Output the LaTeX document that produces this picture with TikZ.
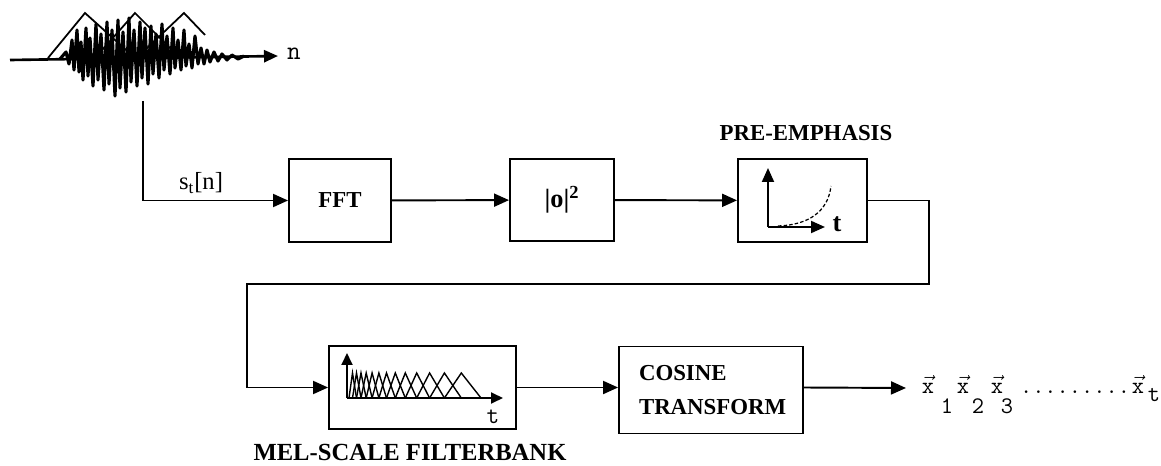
\documentclass[tikz,border=0pt]{standalone}
\usepackage{fontspec}
\setmainfont{Liberation Serif}
\usepackage{amsmath}
\usepackage{tikz}
\usetikzlibrary{arrows.meta, positioning}
\tikzset{
    block/.style={
        rectangle, draw, line width=1.1pt,
        inner sep=0pt, align=center
    },
    line/.style={draw, line width=1.1pt},
    arrow/.style={line width=1.1pt, -{Triangle[length=0.3cm, width=0.26cm]}},
    axis/.style={line width=1.1pt, -{Triangle[length=0.28cm, width=0.24cm]}},
    % text styles
    title/.style={font=\bfseries\fontsize{13}{19}\selectfont},
    mono/.style={font=\ttfamily\fontsize{13.5}{15}\selectfont, inner sep=0pt}
}

\begin{document}
\begin{tikzpicture}[x=0.02cm, y=-0.02cm]
    \useasboundingbox (0,0) rectangle (1161,466);

    % speech frame
    \draw [axis, line width=1.5pt] (10,60) -- (278,56);
    \node [mono, font=\ttfamily\fontsize{15}{16}\selectfont] (nlabel) at (294,54) {n};
    \draw [line width=1.8pt, line join=round] plot coordinates {
        (60,59) (66,52) (69,64) (72,40) (74,70) (77,30) (79,72) (81,42) (83,80) (86,28)
        (88,76) (90,38) (93,86) (96,24) (98,80) (101,34) (104,90) (107,22) (109,84) (112,30)
        (115,96) (118,20) (120,88) (123,32) (126,92) (129,18) (131,82) (134,30) (137,86) (140,22)
        (142,78) (145,28) (148,84) (151,26) (153,74) (156,34) (159,78) (162,24) (164,70) (167,36)
        (170,74) (173,28) (175,68) (178,40) (181,70) (184,30) (186,66) (189,44) (192,68) (195,36)
        (198,64) (201,48) (204,64) (207,50) (210,62) (214,52) (218,61) (222,54) (227,60) (232,55)
        (238,59) (244,56)};
    \draw [line width=1pt] (48,58) -- (85,13) -- (135,58);
    \draw [line width=1pt] (95,58) -- (135,13) -- (180,58);
    \draw [line width=1pt] (145,50) -- (184,13) -- (205,35);
    \coordinate (frame) at (143,101);

    % first row
    \node [block, title, minimum width=2.04cm, minimum height=1.66cm] (fft) at (340,200.5) {FFT};
    \node [block, minimum width=2.08cm, minimum height=1.64cm] (pow) at (562,200)
        {\fontsize{15}{16}\selectfont\textbf{|o|}\textsuperscript{\textbf{2}}};
    \node [block, minimum width=2.58cm, minimum height=1.66cm] (pre) at (802.5,200.5) {};
    \node [title] (prelabel) at (806,133) {PRE-EMPHASIS};

    % curve in pre-emphasis
    \draw [axis] (768,227) -- (768,168);
    \draw [axis] (768,227) -- (825,227);
    \node [font=\bfseries\fontsize{15}{16}\selectfont, inner sep=0pt] (pret) at (837,224) {t};
    \draw [line width=0.7pt, dash pattern=on 2pt off 1.2pt] (778,226) .. controls (808,225) and (828,212) .. (831,186);

    % second row
    \node [block, minimum width=3.74cm, minimum height=1.66cm] (mel) at (422.5,387.5) {};
    \node [font=\bfseries\fontsize{14}{16}\selectfont] (mellabel) at (410,452) {MEL-SCALE FILTERBANK};
    \node [block, title, text width=2.88cm, align=left, minimum width=3.68cm, minimum height=1.74cm] (cos) at (711,390) {COSINE\\TRANSFORM};

    % filterbank in mel box
    \draw [axis, -{Triangle[length=0.24cm, width=0.22cm]}] (347,398) -- (347,353);
    \draw [axis, -{Triangle[length=0.24cm, width=0.22cm]}] (347,398) -- (503,398);
    \foreach \a/\b/\c in {349/352.5/356.5, 352.5/356.5/361, 356.5/361/366.2, 361/366.2/372.1,
        366.2/372.1/378.9, 372.1/378.9/386.5, 378.9/386.5/395.3, 386.5/395.3/405.3,
        395.3/405.3/416.7, 405.3/416.7/429.6, 416.7/429.6/444.4, 429.6/444.4/461.3,
        444.4/461.3/481}
        \draw [line width=0.8pt] (\a,398) -- (\b,373) -- (\c,398);
    \node [mono, font=\ttfamily\fontsize{14}{15}\selectfont] (melt) at (493,417) {t};

    % output vectors
    \node [mono, anchor=base] (vx1) at (928,393) {$\vec{\text{\ttfamily x}}$};
    \node [mono, anchor=base] (vx2) at (963,393) {$\vec{\text{\ttfamily x}}$};
    \node [mono, anchor=base] (vx3) at (997,393) {$\vec{\text{\ttfamily x}}$};
    \node [mono, anchor=base] (vdots) at (1075,393) {.........};
    \node [mono, anchor=base] (vxt) at (1138,393) {$\vec{\text{\ttfamily x}}$};
    \node [mono, anchor=base] (s1) at (947,413) {1};
    \node [mono, anchor=base] (s2) at (978,413) {2};
    \node [mono, anchor=base] (s3) at (1007,413) {3};
    \node [mono, anchor=base] (st) at (1154,401) {t};
    \coordinate (outend) at (906,388);

    % connections
    \draw [arrow] (frame) |- node [pos=0.7, above, font=\fontsize{14}{15}\selectfont] {s\textsubscript{t}[n]} (fft.west);
    \draw [arrow] (fft) -- (pow);
    \draw [arrow] (pow) -- (pre);
    \coordinate (turnR) at (929,284);
    \coordinate (turnL) at (247,284);
    \draw [arrow] (pre.east) -| (turnR) -- (turnL) |- (mel.west);
    \draw [arrow] (mel.east) -- (mel.east -| cos.west);
    \draw [arrow] (mel.east -| cos.east) -- (outend);
\end{tikzpicture}
\end{document}
